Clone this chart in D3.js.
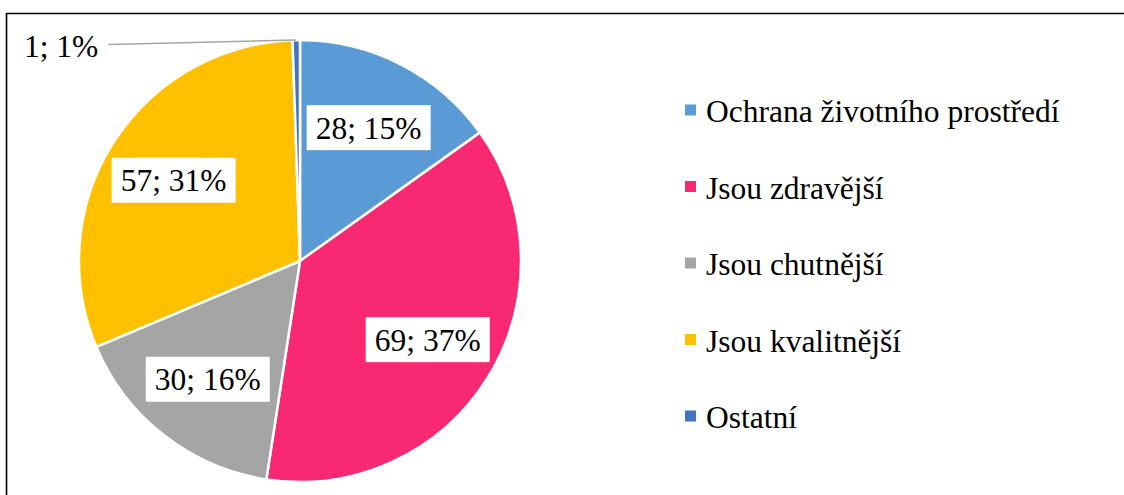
<!DOCTYPE html>
<html>
<head>
<meta charset="utf-8">
<script src="https://cdn.jsdelivr.net/npm/d3@7"></script>
<style>
  html, body { margin: 0; padding: 0; background: #fff; }
  svg { display: block; }
  svg text { font-family: 'Liberation Serif', 'Times New Roman', serif; }
</style>
</head>
<body>
<div id="chart"></div>
<script>
var categories = ['Ochrana životního prostředí', 'Jsou zdravější', 'Jsou chutnější', 'Jsou kvalitnější', 'Ostatní'];
var values = [28, 69, 30, 57, 1];
var colors = ['#5B9BD5', '#F92872', '#A5A5A5', '#FFC000', '#4472C4'];

var width = 1124, height = 495;
var cx = 300, cy = 261, radius = 221;
var fontSize = 31.5;

var svg = d3.select('#chart').append('svg')
    .attr('width', width)
    .attr('height', height);

// frame (only top and left edges fall inside the picture)
svg.append('path')
    .attr('d', 'M6.5,' + height + 'V13.5H' + width)
    .attr('fill', 'none')
    .attr('stroke', '#000')
    .attr('stroke-width', 1.6);

var total = d3.sum(values);
var pie = d3.pie().sort(null).value(function(d){ return d; });
var arcs = pie(values);

var arc = d3.arc().innerRadius(0).outerRadius(radius);
var labelArc = d3.arc().innerRadius(150).outerRadius(150);
var edgeArc = d3.arc().innerRadius(radius).outerRadius(radius);

var g = svg.append('g').attr('transform', 'translate(' + cx + ',' + cy + ')');

g.selectAll('path.slice')
    .data(arcs)
    .enter().append('path')
        .attr('class', 'slice')
        .attr('d', arc)
        .attr('fill', function(d, i){ return colors[i]; })
        .attr('stroke', '#fff')
        .attr('stroke-width', 2.5)
        .attr('stroke-linejoin', 'round');

function labelText(d){
    return d.value + '; ' + Math.round(d.value / total * 100) + '%';
}

// inside labels with white boxes
var inside = arcs.filter(function(d){ return d.value / total > 0.05; });
var lab = g.selectAll('g.lab')
    .data(inside)
    .enter().append('g')
        .attr('class', 'lab')
        .attr('transform', function(d){
            var c = labelArc.centroid(d);
            return 'translate(' + c[0] + ',' + c[1] + ')';
        });

lab.append('rect')
    .attr('x', -62)
    .attr('y', -22.5)
    .attr('width', 124)
    .attr('height', 45)
    .attr('fill', '#fff');

lab.append('text')
    .attr('text-anchor', 'middle')
    .attr('y', 11)
    .attr('font-size', fontSize)
    .attr('fill', '#000')
    .text(labelText);

// outside label with leader line for the tiny slice
var outside = arcs.filter(function(d){ return d.value / total <= 0.05; });
outside.forEach(function(d){
    var p = edgeArc.centroid(d);
    var lx = p[0] - 188, ly = p[1] + 4.5;
    g.append('line')
        .attr('x1', p[0]).attr('y1', p[1])
        .attr('x2', lx).attr('y2', ly)
        .attr('stroke', '#A5A5A5')
        .attr('stroke-width', 1.5);
    g.append('text')
        .attr('x', lx - 10)
        .attr('y', ly + 12.5)
        .attr('text-anchor', 'end')
        .attr('font-size', fontSize)
        .attr('fill', '#000')
        .text(labelText(d));
});

// legend
var legend = svg.append('g').attr('transform', 'translate(685,110)');
var row = legend.selectAll('g')
    .data(categories)
    .enter().append('g')
        .attr('transform', function(d, i){ return 'translate(0,' + (i * 76.5) + ')'; });

row.append('rect')
    .attr('x', 0)
    .attr('y', -5.5)
    .attr('width', 11)
    .attr('height', 11)
    .attr('fill', function(d, i){ return colors[i]; });

row.append('text')
    .attr('x', 21)
    .attr('y', 12)
    .attr('font-size', fontSize)
    .attr('fill', '#000')
    .text(function(d){ return d; });
</script>
</body>
</html>
